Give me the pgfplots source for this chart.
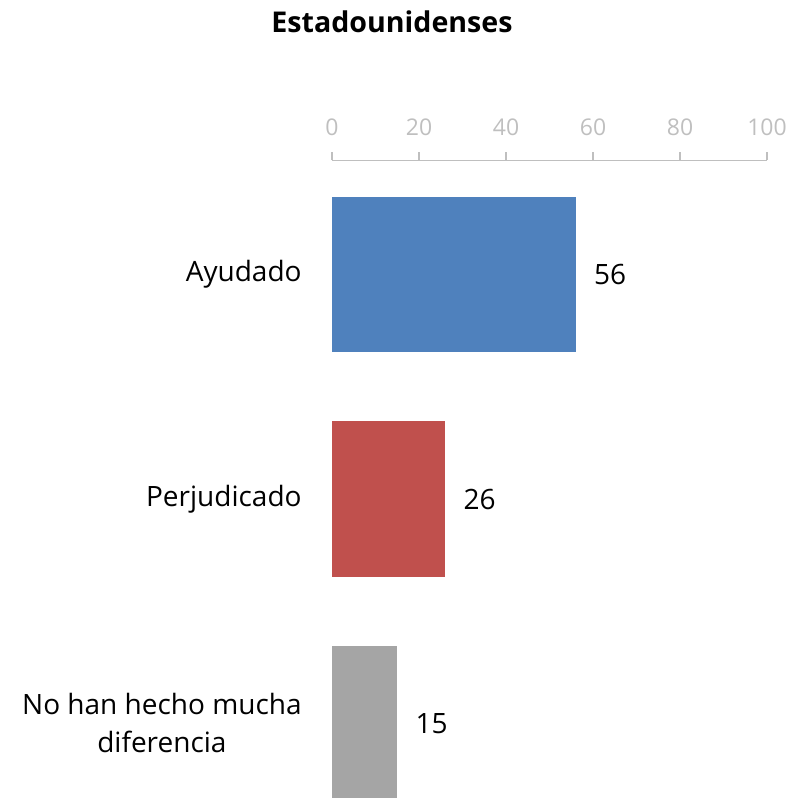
\documentclass[border=0pt]{standalone}
\usepackage{fontspec}
\setmainfont{Open Sans}
\usepackage{pgfplots}
\pgfplotsset{compat=1.18}
\definecolor{cblue}{HTML}{4F81BD}
\definecolor{cred}{HTML}{C0504D}
\definecolor{cgray}{HTML}{A5A5A5}
\definecolor{axgray}{HTML}{BFBFBF}
\begin{document}
\begin{tikzpicture}
\path[use as bounding box] (-166pt,80pt) rectangle (234.5pt,-318.5pt);
\begin{axis}[
  at={(0,0)}, anchor=north west,
  scale only axis,
  width=217.5pt, height=318.5pt,
  xbar, bar shift=0pt, bar width=0.692,
  xmin=0, xmax=100,
  ymin=-0.511, ymax=2.328,
  y dir=reverse,
  axis x line*=top, axis y line*=left,
  x axis line style={draw=axgray, -},
  y axis line style={draw=none},
  xtick={0,20,40,60,80,100},
  tick align=outside,
  major tick length=4pt,
  xtick style={draw=axgray, line width=0.6pt},
  ytick={0,1,2},
  yticklabels={Ayudado, Perjudicado, {No han hecho mucha\\diferencia}},
  ytick style={draw=none},
  xticklabel style={font=\fontsize{11.5}{13}\selectfont, text=axgray, inner sep=0pt, anchor=base, yshift=8.5pt},
  yticklabel style={font=\fontsize{14}{19}\selectfont, align=center, inner sep=0pt, anchor=east, xshift=-11pt},
  /pgf/number format/assume math mode=true,
  nodes near coords,
  nodes near coords style={font=\fontsize{14}{17}\selectfont, anchor=west, inner sep=0pt, xshift=9pt, text=black},
]
\addplot[fill=cblue, draw=none] coordinates {(56,0)};
\addplot[fill=cred, draw=none] coordinates {(26,1)};
\addplot[fill=cgray, draw=none] coordinates {(15,2)};
\end{axis}
\node[font=\bfseries\fontsize{14.3}{17}\selectfont, anchor=base] at (30pt,63.5pt) {Estadounidenses};
\end{tikzpicture}
\end{document}
